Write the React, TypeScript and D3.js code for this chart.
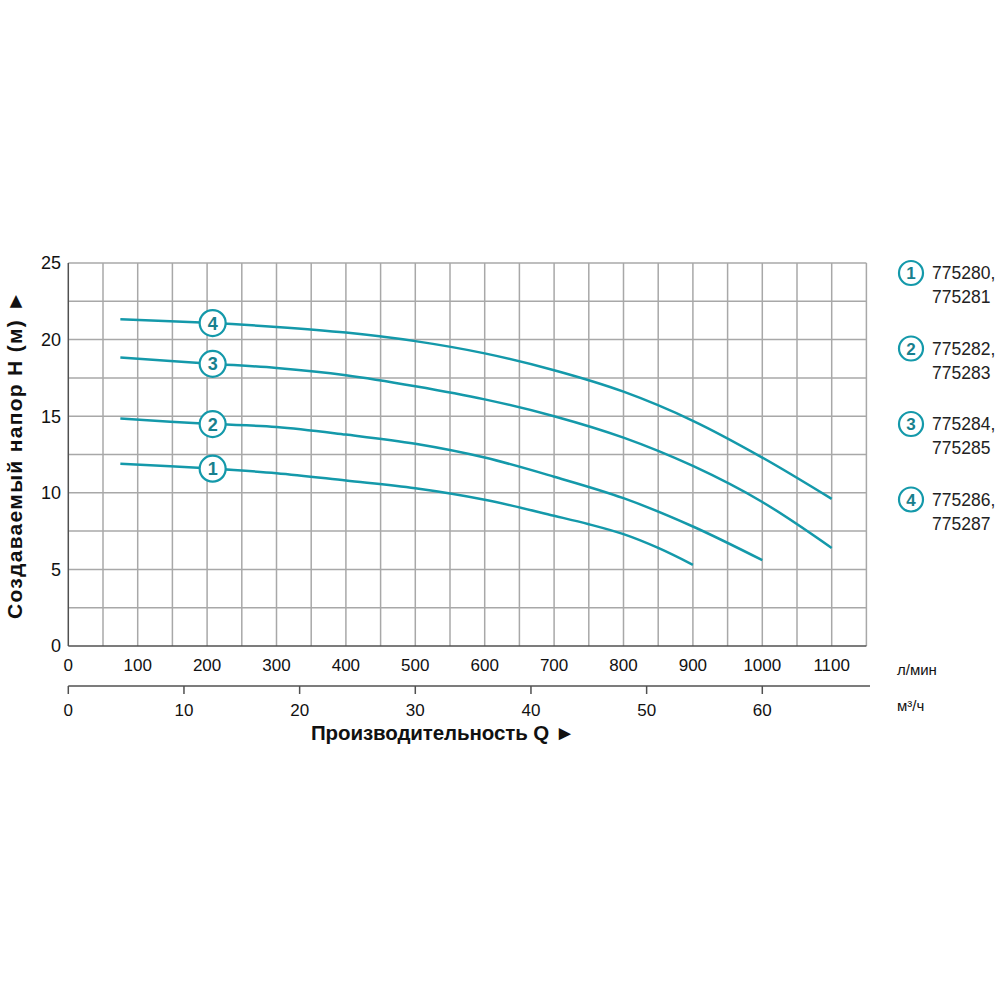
import * as d3 from "d3";

// flow, l/min
const flowPoints = [75, 200, 300, 400, 500, 600, 700, 800, 900, 1000, 1100];
const flowPoints1 = [75, 200, 300, 400, 500, 600, 700, 750, 800, 850, 900];
// head, m (one array per pump group; shorter ones end earlier)
const head1 = [11.9, 11.6, 11.28, 10.8, 10.3, 9.55, 8.5, 7.95, 7.3, 6.4, 5.3];
const head2 = [14.85, 14.5, 14.3, 13.8, 13.2, 12.3, 11.05, 9.65, 7.8, 5.6];
const head3 = [18.83, 18.44, 18.15, 17.68, 16.96, 16.1, 15.0, 13.6, 11.75, 9.4, 6.4];
const head4 = [21.33, 21.1, 20.83, 20.46, 19.9, 19.1, 18.0, 16.6, 14.7, 12.3, 9.6];
const curveIds = ["1", "2", "3", "4"];
const legendCodes = [
  ["775280,", "775281"],
  ["775282,", "775283"],
  ["775284,", "775285"],
  ["775286,", "775287"],
];
const labelFlow = 208;
const headTicks = [0, 5, 10, 15, 20, 25];
const flowTicks = [0, 100, 200, 300, 400, 500, 600, 700, 800, 900, 1000, 1100];
const m3Ticks = [0, 10, 20, 30, 40, 50, 60];

const teal = "#1499aa";
const gridColor = "#a8a8a8";
const axisColor = "#505050";
const font = "'Liberation Sans', Arial, sans-serif";

export default function App() {
  const x = d3.scaleLinear().domain([0, 1150]).range([68.3, 866.4]);
  const y = d3.scaleLinear().domain([0, 25]).range([646, 263]);
  const xm = d3.scaleLinear().domain([0, 1150 * 0.06]).range([68.3, 866.4]);

  const series = [head1, head2, head3, head4].map((h, k) =>
    h.map((v, i) => ({ q: (k === 0 ? flowPoints1 : flowPoints)[i], h: v }))
  );

  const line = d3
    .line<{ q: number; h: number }>()
    .x((d) => x(d.q))
    .y((d) => y(d.h))
    .curve(d3.curveCatmullRom.alpha(0.5));

  function headAt(pts: { q: number; h: number }[], q: number) {
    for (let i = 0; i < pts.length - 1; i++) {
      if (q >= pts[i].q && q <= pts[i + 1].q) {
        const t = (q - pts[i].q) / (pts[i + 1].q - pts[i].q);
        return pts[i].h + t * (pts[i + 1].h - pts[i].h);
      }
    }
    return pts[0].h;
  }

  const vGrid = d3.range(50, 1151, 50);
  const hGrid = d3.range(2.5, 25.01, 2.5);

  return (
    <svg
      width={1000}
      height={1000}
      style={{ position: "fixed", left: 0, top: 0, background: "#fff" }}
      fontFamily={font}
    >
      <rect x={0} y={0} width={1000} height={1000} fill="#fff" />

      {/* grid */}
      {vGrid.map((q) => (
        <line key={"v" + q} x1={x(q)} x2={x(q)} y1={y(0)} y2={y(25)} stroke={gridColor} strokeWidth={1.5} />
      ))}
      {hGrid.map((h) => (
        <line key={"h" + h} x1={x(0)} x2={x(1150)} y1={y(h)} y2={y(h)} stroke={gridColor} strokeWidth={1.5} />
      ))}
      {/* axes */}
      <line x1={x(0)} x2={x(0)} y1={y(0)} y2={y(25)} stroke={axisColor} strokeWidth={1.5} />
      <line x1={x(0)} x2={x(1150)} y1={y(0)} y2={y(0)} stroke={axisColor} strokeWidth={1.5} />

      {headTicks.map((h) => (
        <text key={"yt" + h} x={61} y={y(h)} dy="0.35em" textAnchor="end" fontSize={18} fill="#111">
          {h}
        </text>
      ))}
      {flowTicks.map((q) => (
        <text key={"xt" + q} x={x(q)} y={665} dy="0.35em" textAnchor="middle" fontSize={17} fill="#111">
          {q}
        </text>
      ))}
      <text x={897} y={670} dy="0.35em" fontSize={15} fill="#111">л/мин</text>

      {/* second axis m3/h */}
      <line x1={x(0)} x2={870} y1={686} y2={686} stroke={axisColor} strokeWidth={1.5} />
      {m3Ticks.map((m) => (
        <g key={"m" + m}>
          <line x1={xm(m)} x2={xm(m)} y1={686} y2={694} stroke={axisColor} strokeWidth={1.5} />
          <text x={xm(m)} y={710} dy="0.35em" textAnchor="middle" fontSize={17} fill="#111">
            {m}
          </text>
        </g>
      ))}
      <text x={897} y={706} dy="0.35em" fontSize={15} fill="#111">м³/ч</text>

      <text x={311} y={733} dy="0.35em" fontSize={20.5} fontWeight="bold" fill="#111" textLength={264} lengthAdjust="spacing">
        Производительность Q ►
      </text>
      <text
        transform="translate(15,455) rotate(-90)"
        textAnchor="middle"
        dy="0.35em"
        fontSize={21}
        fontWeight="bold"
        fill="#111"
        textLength={328}
        lengthAdjust="spacing"
      >
        Создаваемый напор H (м) ►
      </text>

      {/* curves */}
      {series.map((pts, i) => (
        <path key={"c" + i} d={line(pts) || ""} fill="none" stroke={teal} strokeWidth={2.5} />
      ))}
      {series.map((pts, i) => {
        const cx = x(labelFlow);
        const cy = y(headAt(pts, labelFlow));
        return (
          <g key={"l" + i}>
            <circle cx={cx} cy={cy} r={13} fill="#fff" stroke={teal} strokeWidth={2.2} />
            <text x={cx} y={cy} dy="0.36em" textAnchor="middle" fontSize={18} fontWeight="bold" fill="#17808e">
              {curveIds[i]}
            </text>
          </g>
        );
      })}

      {/* legend */}
      {legendCodes.map((codes, i) => {
        const top = 273 + i * 75.5;
        return (
          <g key={"lg" + i}>
            <circle cx={911} cy={top} r={12} fill="#fff" stroke={teal} strokeWidth={2.2} />
            <text x={911} y={top} dy="0.36em" textAnchor="middle" fontSize={17} fontWeight="bold" fill="#17808e">
              {curveIds[i]}
            </text>
            <text x={932} y={top} dy="0.35em" fontSize={17.5} fill="#222">{codes[0]}</text>
            <text x={932} y={top + 24} dy="0.35em" fontSize={17.5} fill="#222">{codes[1]}</text>
          </g>
        );
      })}
    </svg>
  );
}
